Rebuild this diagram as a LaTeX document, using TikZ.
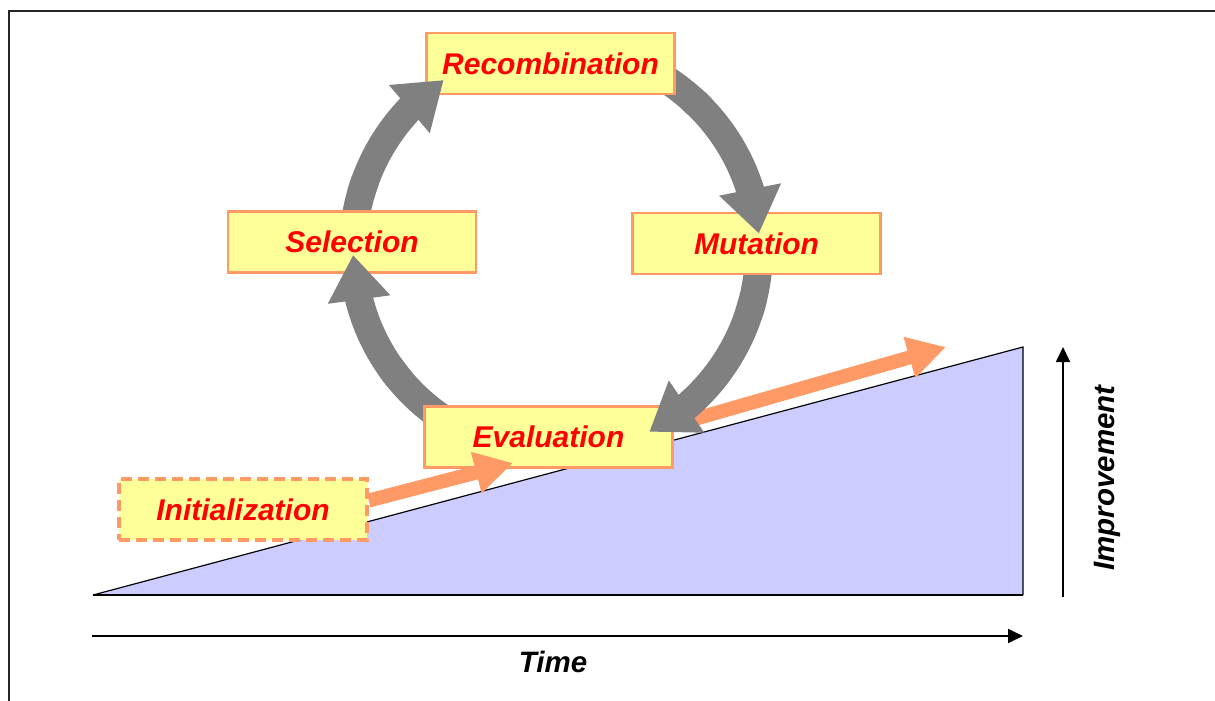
\documentclass[tikz,border=0pt]{standalone}
\usepackage{fontspec}
\setmainfont{Liberation Sans}
\usetikzlibrary{arrows.meta,bending,calc}
\definecolor{boxfill}{HTML}{FFFF99}
\definecolor{boxline}{HTML}{FF9966}
\definecolor{orng}{HTML}{FF9966}
\definecolor{cyclegray}{HTML}{808080}
\definecolor{areablue}{HTML}{CCCCFF}
\definecolor{txtred}{HTML}{FF0000}
\begin{document}
\begin{tikzpicture}[x=1pt,y=-1pt,
  stage/.style={draw=boxline, line width=2.5pt, fill=boxfill, minimum width=248pt,
    minimum height=61pt, inner sep=0pt, text=txtred,
    font=\fontsize{30}{35}\selectfont\bfseries\itshape},
  cyc/.style={draw=cyclegray, line width=28pt},
  cyctip/.style={cyc, -{Triangle[length=45pt,width=60pt,flex]}},
  orngarrow/.style={draw=orng, line width=14pt, -{Triangle[length=38pt,width=40pt]}},
  axisline/.style={line width=1.8pt, -{Triangle[length=15pt,width=14pt]}},
  lbl/.style={font=\fontsize{29.5}{35}\selectfont\bfseries\itshape}
]
\useasboundingbox (0,0) rectangle (1215,701);
% frame
\draw[line width=2pt, black!85] (9,701) -- (9,11) -- (1215,11);
% improvement area
\fill[areablue] (93,595) -- (1023,595) -- (1023,347) -- cycle;
\draw[line width=1.2pt] (93,595) -- (1023,347) -- (1023,595);
\draw[line width=1.8pt] (93,595) -- (1023,595);
% axes
\coordinate (t0) at (92,636);
\coordinate (t1) at (1023,636);
\draw[axisline] (t0) -- (t1);
\node[lbl] (time) at (553,662) {Time};
\coordinate (i0) at (1063,597);
\coordinate (i1) at (1063,347);
\draw[axisline] (i0) -- (i1);
\node[lbl, rotate=90] (impr) at (1107,478) {Improvement};
% cycle centre
\coordinate (C) at (556,250);
% gray arrow tails (under boxes)
\draw[cyc] ($(C)+(122:203)$) arc[start angle=122, end angle=145, radius=203];
\draw[cyc] ($(C)+(184:203)$) arc[start angle=184, end angle=200, radius=203];
\draw[cyc] ($(C)+(300:203)$) arc[start angle=300, end angle=316, radius=203];
\draw[cyc] ($(C)+(2:203)$) arc[start angle=2, end angle=18, radius=203];
% boxes
\node[stage] (rec) at (550.5,63.5) {Recombination};
\node[stage] (sel) at (352,242) {Selection};
\node[stage] (mut) at (756.5,243.5) {Mutation};
\node[stage] (eval) at (548.5,437) {Evaluation};
\node[stage, dash pattern=on 11pt off 6pt, line width=3.5pt] (init) at (243,509.5) {Initialization};
% orange arrows
\coordinate (o1end) at (513,463);
\coordinate (o2end) at (946,347);
\draw[orngarrow] ($(init.east)+(0,-9)$) -- (o1end);
\draw[orngarrow] ($(eval.east)+(0,-12)$) -- (o2end);
% gray arrow heads (over boxes)
\draw[cyctip] ($(C)+(140:203)$) arc[start angle=140, end angle=178.6, radius=203];
\draw[cyctip] ($(C)+(196:203)$) arc[start angle=196, end angle=236, radius=206];
\draw[cyctip] ($(C)+(312:203)$) arc[start angle=312, end angle=355, radius=205];
\draw[cyctip] ($(C)+(14:203)$) arc[start angle=14, end angle=62, radius=207];
\end{tikzpicture}
\end{document}
